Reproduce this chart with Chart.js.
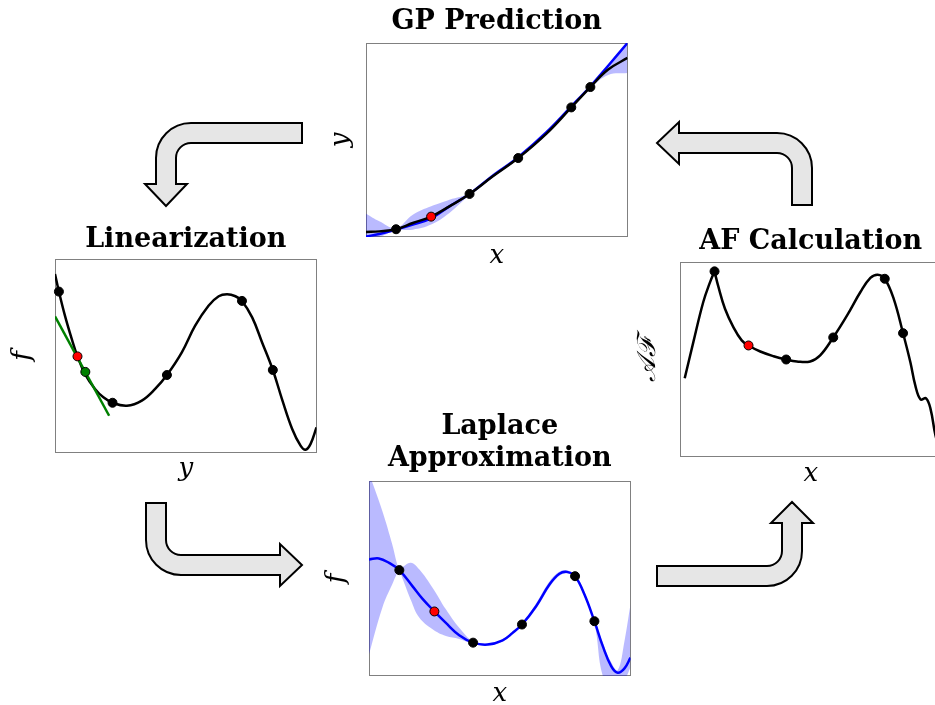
<!DOCTYPE html>
<html>
<head>
<meta charset="utf-8">
<script src="https://cdn.jsdelivr.net/npm/chart.js@4.4.1/dist/chart.umd.min.js"></script>
<style>
  html, body { margin: 0; padding: 0; background: #fff; overflow: hidden; }
  body { width: 935px; height: 705px; position: relative; }
  canvas { position: absolute; }
  svg { position: absolute; left: 0; top: 0; }
</style>
</head>
<body>
<canvas id="gpChart" width="313" height="271" style="left:320px;top:0px"></canvas>
<canvas id="linChart" width="322" height="285" style="left:0px;top:200px"></canvas>
<canvas id="afChart" width="327" height="289" style="left:620px;top:200px"></canvas>
<canvas id="lapChart" width="326" height="337" style="left:310px;top:370px"></canvas>

<svg width="935" height="705">
  <g fill="#e6e6e6" stroke="#000" stroke-width="2" stroke-linejoin="miter">
    <path d="M302,123 L191,123 A35,35 0 0 0 156,158 L156,184 L145,184 L166,206 L187,184 L176,184 L176,158 A15,15 0 0 1 191,143 L302,143 Z"/>
    <path d="M679,133 L777,133 A35,35 0 0 1 812,168 L812,205 L792,205 L792,168 A15,15 0 0 0 777,153 L679,153 L679,164 L657,143 L679,122 Z"/>
    <path d="M146,503 L166,503 L166,540 A15,15 0 0 0 181,555 L280,555 L280,544 L302,565 L280,586 L280,575 L181,575 A35,35 0 0 1 146,540 Z"/>
    <path d="M657,566 L767,566 A15,15 0 0 0 782,551 L782,523 L771,523 L792,502 L813,523 L802,523 L802,551 A35,35 0 0 1 767,586 L657,586 Z"/>
  </g>
</svg>

<script>
// --- GP prediction: posterior mean, true function, confidence band ---
const gpX = [0, 0.051, 0.115, 0.179, 0.249, 0.319, 0.396, 0.485, 0.582, 0.69, 0.785, 0.858, 0.926, 1];
const gpMean = [0.026, 0.029, 0.040, 0.072, 0.105, 0.158, 0.222, 0.313, 0.407, 0.533, 0.668, 0.773, 0.863, 0.923];
const gpTrue = [0.003, 0.015, 0.038, 0.064, 0.096, 0.158, 0.222, 0.316, 0.411, 0.540, 0.673, 0.777, 0.883, 1.0];
const gpUpper = [0.120, 0.081, 0.046, 0.115, 0.158, 0.192, 0.227, 0.326, 0.412, 0.543, 0.674, 0.780, 0.880, 1.0];
const gpLower = [-0.01, 0.0, 0.035, 0.038, 0.064, 0.124, 0.216, 0.306, 0.402, 0.526, 0.663, 0.766, 0.835, 0.845];
const gpObsX = [0.115, 0.396, 0.582, 0.785, 0.858];
const gpObsY = [0.040, 0.222, 0.407, 0.668, 0.773];
const gpNewX = [0.249];
const gpNewY = [0.105];

// --- Linearization: link function and its tangent ---
const linX = [0, 0.015, 0.038, 0.064, 0.086, 0.115, 0.153, 0.185, 0.220, 0.275, 0.332, 0.383, 0.428, 0.485, 0.536, 0.587, 0.626, 0.658, 0.690, 0.715, 0.754, 0.792, 0.833, 0.868, 0.907, 0.939, 0.958, 0.977, 1];
const linF = [0.923, 0.832, 0.708, 0.588, 0.498, 0.407, 0.330, 0.287, 0.259, 0.244, 0.270, 0.330, 0.402, 0.519, 0.656, 0.759, 0.808, 0.818, 0.808, 0.784, 0.699, 0.570, 0.428, 0.278, 0.124, 0.038, 0.017, 0.046, 0.132];
const linObsX = [0.015, 0.220, 0.428, 0.715, 0.833];
const linObsY = [0.832, 0.259, 0.402, 0.784, 0.428];
const tangentX = [0, 0.207];
const tangentY = [0.704, 0.192];
const linRedX = [0.086];
const linRedY = [0.498];
const linGreenX = [0.116];
const linGreenY = [0.418];

// --- AF calculation (rising branch up to the kink, then the rest) ---
const afRiseX = [0.018, 0.051, 0.089, 0.115, 0.132];
const afRiseY = [0.404, 0.589, 0.795, 0.897, 0.952];
const afFallX = [0.132, 0.147, 0.172, 0.204, 0.236, 0.262, 0.307, 0.358, 0.406, 0.447, 0.498, 0.536, 0.586, 0.639, 0.690, 0.728, 0.756, 0.783, 0.817, 0.853, 0.881, 0.900, 0.920, 0.941, 0.958, 0.977, 1];
const afFallY = [0.952, 0.872, 0.760, 0.666, 0.598, 0.572, 0.541, 0.517, 0.500, 0.490, 0.490, 0.521, 0.613, 0.726, 0.846, 0.918, 0.935, 0.914, 0.812, 0.635, 0.486, 0.366, 0.295, 0.301, 0.247, 0.110, 0.0];
const afObsX = [0.132, 0.406, 0.586, 0.783, 0.853];
const afObsY = [0.952, 0.500, 0.613, 0.914, 0.635];
const afNewX = [0.262];
const afNewY = [0.572];

// --- Laplace approximation of the latent f ---
const lapX = [0, 0.038, 0.077, 0.116, 0.166, 0.204, 0.250, 0.294, 0.345, 0.398, 0.453, 0.511, 0.549, 0.585, 0.639, 0.690, 0.728, 0.757, 0.788, 0.824, 0.862, 0.894, 0.926, 0.951, 0.977, 1];
const lapMean = [0.598, 0.603, 0.580, 0.543, 0.461, 0.397, 0.331, 0.272, 0.209, 0.171, 0.161, 0.183, 0.221, 0.264, 0.358, 0.469, 0.524, 0.534, 0.512, 0.418, 0.281, 0.153, 0.051, 0.017, 0.039, 0.094];
const bandX = [0, 0.051, 0.089, 0.116, 0.128, 0.160, 0.192, 0.243, 0.294, 0.345, 0.398, 0.453, 0.511, 0.585, 0.639, 0.690, 0.728, 0.757, 0.788, 0.824, 0.862, 0.894, 0.926, 0.951, 0.977, 1];
const lapUpper = [1.04, 0.846, 0.675, 0.545, 0.559, 0.581, 0.547, 0.453, 0.342, 0.248, 0.179, 0.166, 0.189, 0.270, 0.372, 0.484, 0.534, 0.542, 0.517, 0.430, 0.291, 0.17, 0.07, 0.03, 0.18, 0.368];
const lapLower = [0.111, 0.350, 0.470, 0.538, 0.500, 0.390, 0.300, 0.240, 0.205, 0.190, 0.165, 0.156, 0.177, 0.258, 0.345, 0.455, 0.514, 0.526, 0.507, 0.406, 0.271, 0.0, -0.03, -0.05, -0.02, 0.043];
const lapObsX = [0.116, 0.398, 0.585, 0.788, 0.862];
const lapObsY = [0.543, 0.171, 0.264, 0.512, 0.281];
const lapNewX = [0.250];
const lapNewY = [0.331];

const BAND = "rgba(0, 0, 255, 0.27)";
const SERIF = "'DejaVu Serif', 'Liberation Serif', serif";

const zip = (xs, ys) => xs.map((x, i) => ({ x: x, y: ys[i] }));

function curve(xs, ys, color) {
  return {
    data: zip(xs, ys),
    borderColor: color,
    borderWidth: 2.5,
    pointRadius: 0,
    tension: 0.4,
    fill: false
  };
}

function straight(xs, ys, color) {
  return { data: zip(xs, ys), borderColor: color, borderWidth: 2.5, pointRadius: 0, tension: 0, fill: false };
}

function dots(xs, ys, color) {
  return {
    data: zip(xs, ys),
    showLine: false,
    pointRadius: 4.5,
    pointBackgroundColor: color,
    pointBorderColor: "#000",
    pointBorderWidth: 1,
    clip: false
  };
}

// upper edge + lower edge filled back to the upper one
function band(xs, lo, hi) {
  return [
    { data: zip(xs, hi), borderWidth: 0, pointRadius: 0, tension: 0.4, fill: false },
    { data: zip(xs, lo), borderWidth: 0, pointRadius: 0, tension: 0.4, fill: "-1", backgroundColor: BAND }
  ];
}

// grey box around the plot area
const frame = {
  id: "frame",
  beforeDatasetsDraw(chart) {
    const a = chart.chartArea;
    const ctx = chart.ctx;
    ctx.save();
    ctx.strokeStyle = "#808080";
    ctx.lineWidth = 1;
    ctx.strokeRect(Math.round(a.left) + 0.5, Math.round(a.top) + 0.5, Math.round(a.right - a.left) - 1, Math.round(a.bottom - a.top) - 1);
    ctx.restore();
  }
};

function axis(label, pad) {
  return {
    type: "linear",
    min: 0,
    max: 1,
    ticks: { display: false },
    grid: { display: false, drawTicks: false },
    border: { display: false },
    title: {
      display: true,
      text: label,
      color: "#000",
      font: { family: SERIF, style: "italic", size: 26, lineHeight: 1 },
      padding: pad
    }
  };
}

function options(title, titlePad, titleLH, xLabel, xPad, yLabel, yPad) {
  return {
    responsive: false,
    animation: false,
    events: [],
    layout: { padding: 0 },
    plugins: {
      legend: { display: false },
      tooltip: { enabled: false },
      title: {
        display: true,
        fullSize: false,
        text: title,
        color: "#000",
        font: { family: SERIF, weight: "bold", size: 27, lineHeight: titleLH },
        padding: titlePad
      }
    },
    scales: {
      x: axis(xLabel, xPad),
      y: axis(yLabel, yPad)
    }
  };
}

new Chart(document.getElementById("gpChart"), {
  type: "line",
  data: {
    datasets: [
      dots(gpNewX, gpNewY, "#ff0000"),
      dots(gpObsX, gpObsY, "#000"),
      curve(gpX, gpMean, "#000"),
      curve(gpX, gpTrue, "#0000ff"),
      ...band(gpX, gpLower, gpUpper)
    ]
  },
  options: options("GP Prediction", { top: 5.8, bottom: 4.8 }, 1.2, "x", { top: 6, bottom: 2 }, "y", { top: 8, bottom: 12 }),
  plugins: [frame]
});

new Chart(document.getElementById("linChart"), {
  type: "line",
  data: {
    datasets: [
      dots(linGreenX, linGreenY, "#008000"),
      dots(linRedX, linRedY, "#ff0000"),
      dots(linObsX, linObsY, "#000"),
      straight(tangentX, tangentY, "#008000"),
      curve(linX, linF, "#000")
    ]
  },
  options: options("Linearization", { top: 23.8, bottom: 2.8 }, 1.2, "y", { top: 3, bottom: 3 }, "f", { top: 10, bottom: 19 }),
  plugins: [frame]
});

new Chart(document.getElementById("afChart"), {
  type: "line",
  data: {
    datasets: [
      dots(afNewX, afNewY, "#ff0000"),
      dots(afObsX, afObsY, "#000"),
      curve(afRiseX, afRiseY, "#000"),
      curve(afFallX, afFallY, "#000")
    ]
  },
  options: options("AF Calculation", { top: 25.3, bottom: 4.3 }, 1.2, "x", { top: 4, bottom: 2 }, "𝒜ℱ", { top: 15, bottom: 19 }),
  plugins: [frame]
});

new Chart(document.getElementById("lapChart"), {
  type: "line",
  data: {
    datasets: [
      dots(lapNewX, lapNewY, "#ff0000"),
      dots(lapObsX, lapObsY, "#000"),
      curve(lapX, lapMean, "#0000ff"),
      ...band(bandX, lapLower, lapUpper)
    ]
  },
  options: options(["Laplace", "Approximation"], { top: 41, bottom: 6 }, "32px", "x", { top: 5, bottom: 0 }, "f", { top: 14, bottom: 19 }),
  plugins: [frame]
});
</script>
</body>
</html>
